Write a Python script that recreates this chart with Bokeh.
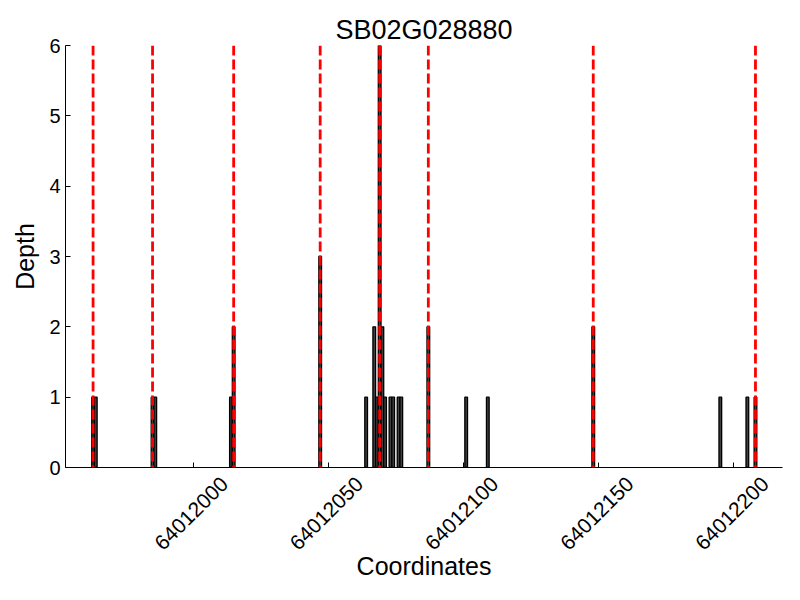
import math
from bokeh.plotting import figure
from bokeh.models import (Range1d, FixedTicker, BasicTickFormatter, Span,
                          LinearAxis)
from bokeh.embed import file_html
from bokeh.resources import INLINE

# Read coverage depth at each coordinate
positions = [64011963, 64011964, 64011985, 64011986, 64012014, 64012015,
             64012047, 64012064, 64012067, 64012068, 64012069, 64012070,
             64012071, 64012073, 64012074, 64012076, 64012077, 64012087,
             64012101, 64012109, 64012148, 64012195, 64012205, 64012208]
depths = [1, 1, 1, 1, 1, 2,
          3, 1, 2, 1, 6, 2,
          1, 1, 1, 1, 1, 2,
          1, 1, 2, 1, 1, 1]

# Marked coordinates (red dashed lines)
marked = [64011963, 64011985, 64012015, 64012047, 64012069, 64012087,
          64012148, 64012208]

x_ticks = [64012000, 64012050, 64012100, 64012150, 64012200]
y_ticks = [0, 1, 2, 3, 4, 5, 6]

FONT = "Liberation Sans"
W, H = 796, 596
X0, X1 = 64011952.8, 64012218.0
LABEL_SHIFT = 11.6   # rotated labels are centred on their ticks (as in the original)

p = figure(width=W, height=H, output_backend="svg", toolbar_location=None,
           x_range=Range1d(X0, X1), y_range=Range1d(0, 6),
           title="SB02G028880",
           min_border_left=65, min_border_right=W - 782, min_border_top=45,
           min_border_bottom=H - 467)
p.extra_x_ranges = {"labels": Range1d(X0 - LABEL_SHIFT, X1 - LABEL_SHIFT)}

p.title.align = "center"
p.title.text_font = FONT
p.title.text_font_size = "27px"
p.title.text_font_style = "normal"
p.title.text_color = "black"
p.title.standoff = 2

p.vbar(x=positions, top=depths, width=1.0, fill_color="#404040",
       line_color="black", line_width=1.3)

for m in marked:
    p.add_layout(Span(location=m, dimension="height", line_color="red",
                      line_width=2.8, line_dash="10 4"))

p.xgrid.visible = False
p.ygrid.visible = False
p.outline_line_color = None
p.background_fill_color = "white"
p.border_fill_color = "white"

# main x axis: line and inward ticks only (its labels are not drawn)
xa = p.xaxis[0]
xa.ticker = FixedTicker(ticks=x_ticks)
xa.major_label_text_color = None
xa.major_label_text_font_size = "1px"
xa.major_label_standoff = 0

# label axis: rotated tick labels and the axis title
xl = LinearAxis(x_range_name="labels", ticker=FixedTicker(ticks=x_ticks),
                formatter=BasicTickFormatter(use_scientific=False))
xl.axis_line_color = None
xl.major_tick_line_color = None
xl.minor_tick_line_color = None
xl.major_tick_in = 0
xl.major_tick_out = 0
xl.major_label_orientation = math.pi / 4
xl.major_label_standoff = 13
xl.axis_label = "Coordinates"
xl.axis_label_standoff = -7
p.add_layout(xl, "below")

ya = p.yaxis[0]
ya.ticker = FixedTicker(ticks=y_ticks)
ya.axis_label = "Depth"

for ax in (xa, ya):
    ax.minor_tick_line_color = None
    ax.major_tick_in = 5
    ax.major_tick_out = 0
    ax.axis_line_color = "black"
    ax.major_tick_line_color = "black"

for ax in (xl, ya):
    ax.major_label_text_font = FONT
    ax.major_label_text_font_size = "20px"
    ax.major_label_text_color = "black"
    ax.axis_label_text_font = FONT
    ax.axis_label_text_font_size = "25px"
    ax.axis_label_text_font_style = "normal"
    ax.axis_label_text_color = "black"

xl.major_label_text_font_size = "21px"
ya.major_label_standoff = 5
ya.axis_label_standoff = 7

open("out.html", "w").write(file_html(p, INLINE))
